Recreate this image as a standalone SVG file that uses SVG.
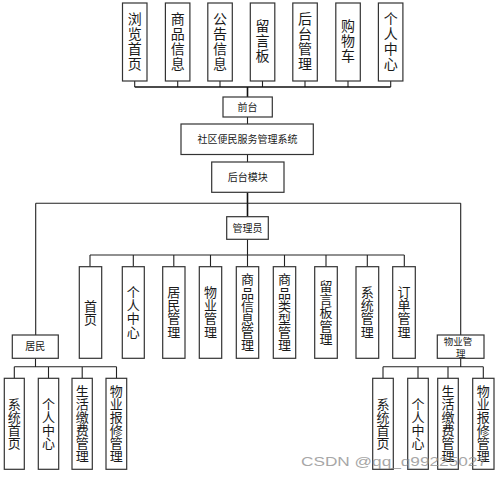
<svg xmlns="http://www.w3.org/2000/svg" width="499" height="478" viewBox="0 0 499 478">
<style>
.box{fill:#fff;stroke:#333;stroke-width:1.2}
.ln{stroke:#222;stroke-width:1.1;fill:none}
.tr{stroke:#111;stroke-width:1.6;fill:none}
.vt{font-family:"Noto Sans CJK SC","Noto Sans",sans-serif;fill:#1a1a1a;text-anchor:middle;writing-mode:vertical-rl}
.t1{font-size:14px;letter-spacing:1px}
.t2{font-size:13px;letter-spacing:0.2px}
.t3{font-size:13px}
.h10{font-family:"Noto Sans CJK SC","Noto Sans",sans-serif;font-size:10px;fill:#1a1a1a;text-anchor:middle}
.h9{font-family:"Noto Sans CJK SC","Noto Sans",sans-serif;font-size:9.5px;fill:#1a1a1a;text-anchor:middle}
.wm{font-family:"Liberation Sans",Arial,sans-serif;font-size:13px;fill:#8a8a8a;opacity:0.75}
</style>
<rect width="499" height="478" fill="#fff"/>
<g id="connectors">
<path class="ln" d="M134.7 81V87M177.7 81V87M220 81V87M262.5 81V87M305 81V87M348 81V87M390.7 81V87"/>
<path class="tr" d="M134.7 87H390.7M247.5 87V97"/>
<path class="ln" d="M247.5 117V124M247.5 154.5V162"/>
<path class="tr" d="M247.5 192.3V216.7"/>
<path class="ln" d="M35.7 203.3H460.7M35.7 203.3V335M460.7 203.3V335"/>
<path class="ln" d="M247.5 239.3V255M90 255H404.3"/>
<path class="ln" d="M90 255V266.7M133.3 255V266.7M173.8 255V266.7M210.5 255V266.7M247.5 255V266.7M284.5 255V266.7M326 255V266.7M367.3 255V266.7M404.3 255V266.7"/>
<path class="ln" d="M35.5 358.3V366.7M14.3 366.7H116.5M14.3 366.7V378.3M48.5 366.7V378.3M82.2 366.7V378.3M116.5 366.7V378.3"/>
<path class="ln" d="M460.7 358.3V366.7M383 366.7H483.3M383 366.7V378.3M418 366.7V378.3M448 366.7V378.3M483.3 366.7V378.3"/>
</g>
<g id="front-1"><rect class="box" x="122.5" y="3" width="24.5" height="78"/><text class="vt t1" x="134.7" y="41.5">浏览首页</text></g>
<g id="front-2"><rect class="box" x="165.4" y="3" width="24.5" height="78"/><text class="vt t1" x="177.7" y="41.5">商品信息</text></g>
<g id="front-3"><rect class="box" x="207.8" y="3" width="24.5" height="78"/><text class="vt t1" x="220" y="41.5">公告信息</text></g>
<g id="front-4"><rect class="box" x="250.3" y="3" width="24.5" height="78"/><text class="vt t1" x="262.5" y="41">留言板</text></g>
<g id="front-5"><rect class="box" x="292.8" y="3" width="24.5" height="78"/><text class="vt t1" x="305" y="41.5">后台管理</text></g>
<g id="front-6"><rect class="box" x="335.8" y="3" width="24.5" height="78"/><text class="vt t1" x="348" y="41">购物车</text></g>
<g id="front-7"><rect class="box" x="378.4" y="3" width="24.5" height="78"/><text class="vt t1" x="390.7" y="41.5">个人中心</text></g>
<g id="qiantai"><rect class="box" x="223" y="97" width="49.3" height="20"/><text class="h10" x="247.6" y="110.5">前台</text></g>
<g id="system"><rect class="box" x="181" y="124" width="132.3" height="30.5"/><text class="h10" x="247.5" y="142.8">社区便民服务管理系统</text></g>
<g id="houtai"><rect class="box" x="211.7" y="162" width="72.3" height="30.3"/><text class="h10" x="247.8" y="180.6">后台模块</text></g>
<g id="admin"><rect class="box" x="226.7" y="216.7" width="41.6" height="22.6"/><text class="h10" x="247.5" y="231.5">管理员</text></g>
<g id="admin-1"><rect class="box" x="79.3" y="266.7" width="22.4" height="91.6"/><text class="vt t2" x="90.5" y="312.5">首页</text></g>
<g id="admin-2"><rect class="box" x="122.3" y="266.7" width="22" height="91.6"/><text class="vt t2" x="133.3" y="312">个人中心</text></g>
<g id="admin-3"><rect class="box" x="162.7" y="266.7" width="22.3" height="91.6"/><text class="vt t2" x="173.8" y="312">居民管理</text></g>
<g id="admin-4"><rect class="box" x="199.3" y="266.7" width="22.4" height="91.6"/><text class="vt t2" x="210.5" y="312">物业管理</text></g>
<g id="admin-5"><rect class="box" x="236.3" y="266.7" width="22.4" height="91.6"/><text class="vt t2" x="247.5" y="312.5">商品信息管理</text></g>
<g id="admin-6"><rect class="box" x="273.3" y="266.7" width="22.4" height="91.6"/><text class="vt t2" x="284.5" y="312.5">商品类型管理</text></g>
<g id="admin-7"><rect class="box" x="314.7" y="266.7" width="22.6" height="91.6"/><text class="vt t2" x="326" y="312.5">留言板管理</text></g>
<g id="admin-8"><rect class="box" x="356" y="266.7" width="22.7" height="91.6"/><text class="vt t2" x="367.3" y="312">系统管理</text></g>
<g id="admin-9"><rect class="box" x="392.7" y="266.7" width="22.6" height="91.6"/><text class="vt t2" x="404" y="312">订单管理</text></g>
<g id="resident"><rect class="box" x="12.3" y="335" width="46" height="23.3"/><text class="h10" x="35.3" y="350.3">居民</text></g>
<g id="res-1"><rect class="box" x="4.3" y="378.3" width="20" height="91"/><text class="vt t3" x="14.3" y="424">系统首页</text></g>
<g id="res-2"><rect class="box" x="38.3" y="378.3" width="20.4" height="91"/><text class="vt t3" x="48.5" y="424">个人中心</text></g>
<g id="res-3"><rect class="box" x="72" y="378.3" width="20.3" height="91"/><text class="vt t3" x="82.2" y="424">生活缴费管理</text></g>
<g id="res-4"><rect class="box" x="106" y="378.3" width="20.7" height="91"/><text class="vt t3" x="116.3" y="424">物业报修管理</text></g>
<g id="property"><rect class="box" x="437.3" y="335" width="46.7" height="23.3"/><text class="h9"><tspan x="458" y="344.5">物业管</tspan><tspan x="460.7" y="356.6">理</tspan></text></g>
<g id="prop-1"><rect class="box" x="372.7" y="378.3" width="20.6" height="91"/><text class="vt t3" x="383" y="424">系统首页</text></g>
<g id="prop-2"><rect class="box" x="407.7" y="378.3" width="20.6" height="91"/><text class="vt t3" x="418" y="424">个人中心</text></g>
<g id="prop-3"><rect class="box" x="437.7" y="378.3" width="20.6" height="91"/><text class="vt t3" x="448" y="424">生活缴费管理</text></g>
<g id="prop-4"><rect class="box" x="472.7" y="378.3" width="21.3" height="91"/><text class="vt t3" x="483.3" y="424">物业报修管理</text></g>
<text class="wm" x="301" y="465.5" textLength="186" lengthAdjust="spacingAndGlyphs">CSDN @qq_q99225027</text>
</svg>
